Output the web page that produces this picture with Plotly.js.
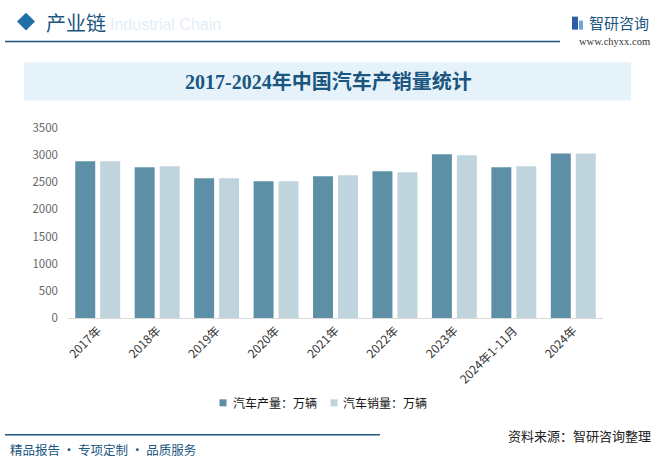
<!DOCTYPE html>
<html>
<head>
<meta charset="utf-8">
<script src="https://cdn.plot.ly/plotly-3.0.1.min.js"></script>
<style>
  html, body { margin: 0; padding: 0; background: #fff; }
  #chart { width: 664px; height: 463px; }
</style>
</head>
<body>
<div id="chart"></div>
<script>
// data (万辆)
const years = ["2017年", "2018年", "2019年", "2020年", "2021年", "2022年", "2023年", "2024年1-11月", "2024年"];
const production = [2886, 2778, 2574, 2520, 2610, 2702, 3016, 2778, 3032];
const sales = [2886, 2796, 2574, 2520, 2628, 2686, 2998, 2794, 3032];
const yTicks = [0, 500, 1000, 1500, 2000, 2500, 3000, 3500];
const seriesNames = ["汽车产量：万辆", "汽车销量：万辆"];
const seriesColors = ["#5d90a7", "#c0d4de"];

// plot box in pixels, used to place the page decorations
const L = 68, R = 603, T = 127.6, B = 318;
const px = x => (x - L) / (R - L);
const py = y => (B - y) / (B - T);

const cjk = "'Microsoft YaHei', 'Noto Sans CJK SC', sans-serif";
const navy = "#1b5680";

const traces = [
  { type: "bar", x: years, y: production, name: seriesNames[0], marker: { color: seriesColors[0] } },
  { type: "bar", x: years, y: sales, name: seriesNames[1], marker: { color: seriesColors[1] } }
];

// compact legend: small square + label, like the original
const legendItems = [
  { sq: 223, text: 231 },
  { sq: 334, text: 341 }
];
const legendShapes = legendItems.map((it, i) => ({
  type: "rect", xref: "paper", yref: "paper",
  x0: px(it.sq - 3.5), x1: px(it.sq + 3.5), y0: py(406.5), y1: py(399.5),
  fillcolor: seriesColors[i], line: { width: 0 }
}));
const legendNotes = legendItems.map((it, i) => ({
  xref: "paper", yref: "paper", x: px(it.text), y: py(403), xanchor: "left", yanchor: "middle",
  text: seriesNames[i], showarrow: false, font: { family: cjk, size: 12, color: "#111" }
}));

const layout = {
  width: 664, height: 463,
  margin: { l: L, r: 664 - R, t: T, b: 463 - B },
  paper_bgcolor: "#fff", plot_bgcolor: "rgba(0,0,0,0)",
  font: { family: cjk, size: 12, color: "#404040" },
  barmode: "group", bargap: 0.16, bargroupgap: 0.2,
  showlegend: false,
  xaxis: {
    tickangle: -45, showline: true, linecolor: "#d9d9d9", linewidth: 1,
    ticks: "", tickfont: { size: 12, color: "#333" }, fixedrange: true
  },
  yaxis: {
    range: [0, 3500], tickvals: yTicks, showgrid: false, zeroline: false,
    showline: false, tickfont: { size: 11.5, color: "#666" }, ticklabelstandoff: 9
  },
  shapes: [
    // header diamond and rule
    { type: "path", xref: "paper", yref: "paper",
      path: `M ${px(17)} ${py(21)} L ${px(26)} ${py(12)} L ${px(35)} ${py(21)} L ${px(26)} ${py(30)} Z`,
      fillcolor: "#1f6fa8", line: { width: 0 } },
    { type: "line", xref: "paper", yref: "paper", x0: px(5), x1: px(560), y0: py(41), y1: py(41),
      line: { color: navy, width: 1.5 } },
    // logo block
    { type: "rect", xref: "paper", yref: "paper", x0: px(572), x1: px(578), y0: py(29), y1: py(16),
      fillcolor: "#2a5ea8", line: { width: 0 } },
    { type: "rect", xref: "paper", yref: "paper", x0: px(579), x1: px(583), y0: py(29), y1: py(20),
      fillcolor: "#6aa7d8", line: { width: 0 } },
    // title banner
    { type: "rect", xref: "paper", yref: "paper", x0: px(24), x1: px(631), y0: py(100), y1: py(62),
      fillcolor: "#e5f2fa", line: { width: 0 }, layer: "below" },
    // footer rule
    { type: "line", xref: "paper", yref: "paper", x0: px(5), x1: px(380), y0: py(435), y1: py(435),
      line: { color: navy, width: 1.5 } },
    ...legendShapes
  ],
  annotations: [
    { xref: "paper", yref: "paper", x: px(108), y: py(24), xanchor: "left", yanchor: "middle",
      text: "Industrial Chain", showarrow: false,
      font: { family: "Arial, 'Liberation Sans', sans-serif", size: 16, color: "#e3eef7" } },
    { xref: "paper", yref: "paper", x: px(44), y: py(22), xanchor: "left", yanchor: "middle",
      text: "产业链", showarrow: false, font: { family: cjk, size: 20, color: navy } },
    { xref: "paper", yref: "paper", x: px(587), y: py(22), xanchor: "left", yanchor: "middle",
      text: "智研咨询", showarrow: false, font: { family: cjk, size: 15, color: navy } },
    { xref: "paper", yref: "paper", x: px(614), y: py(41), xanchor: "center", yanchor: "middle",
      text: "www.chyxx.com", showarrow: false,
      font: { family: "'Liberation Serif', serif", size: 10.5, color: "#333" } },
    { xref: "paper", yref: "paper", x: px(328), y: py(81), xanchor: "center", yanchor: "middle",
      text: "<b>2017-2024年中国汽车产销量统计</b>", showarrow: false,
      font: { family: "'Liberation Serif', " + cjk, size: 20, color: navy } },
    { xref: "paper", yref: "paper", x: px(8), y: py(450), xanchor: "left", yanchor: "middle",
      text: "精品报告 · 专项定制 · 品质服务", showarrow: false,
      font: { family: cjk, size: 12.5, color: navy } },
    { xref: "paper", yref: "paper", x: px(653), y: py(436), xanchor: "right", yanchor: "middle",
      text: "资料来源：智研咨询整理", showarrow: false,
      font: { family: cjk, size: 13, color: "#222" } },
    ...legendNotes
  ]
};

Plotly.newPlot("chart", traces, layout, { displayModeBar: false, staticPlot: true });
</script>
</body>
</html>
